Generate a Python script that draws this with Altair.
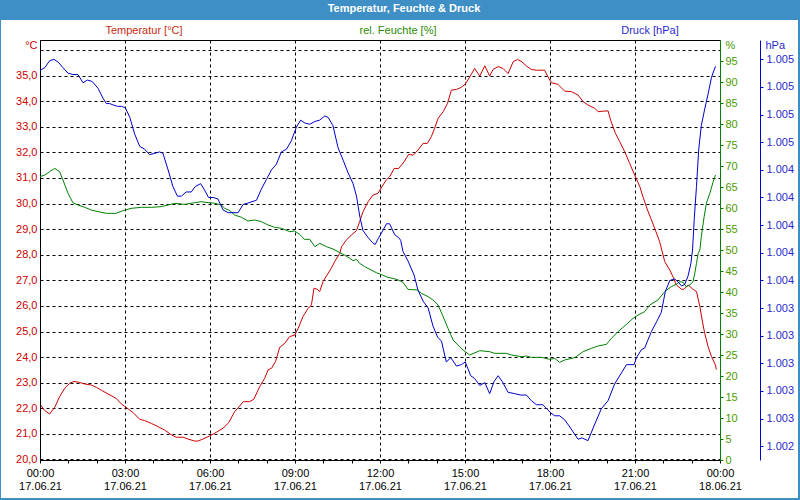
import altair as alt
import pandas as pd

# ---- data (hours since 17.06.21 00:00) ----
temp_h = [0.02, 0.17, 0.34, 0.52, 0.69, 0.87, 1.05, 1.20, 1.40, 1.58, 1.81, 1.99, 2.16, 2.40, 2.69, 2.87,
          3.01, 3.28, 3.52, 3.69, 3.93, 4.17, 4.40, 4.64, 4.81, 5.05, 5.22, 5.46, 5.58, 5.75, 5.99, 6.22,
          6.46, 6.66, 6.87, 7.05, 7.17, 7.40, 7.55, 7.75, 7.93, 8.05, 8.17, 8.31, 8.46, 8.64, 8.81, 8.99,
          9.11, 9.28, 9.46, 9.58, 9.67, 9.79, 9.87, 9.99, 10.11, 10.28, 10.40, 10.58, 10.64, 10.81, 10.99,
          11.17, 11.28, 11.40, 11.58, 11.75, 11.93, 12.07, 12.22, 12.34, 12.50, 12.66, 12.85, 13.01, 13.17,
          13.34, 13.52, 13.67, 13.81, 13.93, 14.05, 14.23, 14.38, 14.52, 14.70, 14.87, 15.01, 15.17, 15.34,
          15.52, 15.70, 15.87, 15.99, 16.17, 16.34, 16.52, 16.70, 16.85, 17.01, 17.17, 17.34, 17.52, 17.81,
          17.93, 18.05, 18.28, 18.52, 18.76, 18.99, 19.17, 19.34, 19.58, 19.70, 19.87, 20.05, 20.14, 20.31,
          20.46, 20.64, 20.81, 20.99, 21.17, 21.28, 21.44, 21.58, 21.72, 21.87, 22.05, 22.23, 22.34, 22.46,
          22.64, 22.73, 22.87, 23.05, 23.17, 23.29, 23.37, 23.46, 23.58, 23.70, 23.84, 23.87]
temp_v = [22.13, 21.91, 21.78, 22.04, 22.45, 22.78, 22.98, 23.05, 23.01, 22.95, 22.91, 22.82, 22.71, 22.56, 22.39, 22.17,
          22.06, 21.84, 21.57, 21.52, 21.41, 21.28, 21.15, 20.96, 20.87, 20.87, 20.80, 20.72, 20.72, 20.80, 20.92, 21.06,
          21.22, 21.44, 21.87, 22.09, 22.26, 22.26, 22.36, 22.84, 23.17, 23.50, 23.56, 23.82, 24.38, 24.54, 24.80, 24.86,
          25.12, 25.58, 25.90, 26.04, 26.69, 26.65, 26.56, 26.95, 27.17, 27.47, 27.73, 28.05, 28.31, 28.57, 28.77,
          28.94, 29.29, 29.68, 30.07, 30.33, 30.40, 30.66, 30.92, 31.05, 31.37, 31.37, 31.63, 31.92, 31.89,
          32.09, 32.35, 32.35, 32.61, 32.94, 33.33, 33.59, 33.91, 34.43, 34.46, 34.54, 34.67, 34.95, 35.28,
          34.98, 35.38, 34.98, 35.24, 35.35, 35.28, 35.08, 35.54, 35.63, 35.54, 35.37, 35.24, 35.21, 35.21,
          34.95, 34.72, 34.66, 34.39, 34.37, 34.24, 33.98, 33.85, 33.72, 33.59, 33.61, 33.62, 33.26, 32.74,
          32.42, 32.02, 31.57, 31.11, 30.66, 30.27, 29.75, 29.36, 28.96, 28.51, 27.73, 27.40, 27.14, 26.82,
          26.65, 26.65, 26.82, 26.65, 26.56, 25.97, 25.45, 24.93, 24.41, 24.02, 23.69, 23.52]

hum_h = [0.00, 0.17, 0.34, 0.52, 0.69, 0.81, 0.99, 1.16, 1.34, 1.58, 1.81, 2.05, 2.34, 2.69, 2.93, 3.22,
         3.58, 3.93, 4.28, 4.52, 4.75, 5.11, 5.46, 5.69, 5.93, 6.17, 6.40, 6.52, 6.70, 6.87, 7.11, 7.34,
         7.58, 7.81, 8.05, 8.28, 8.52, 8.81, 8.99, 9.16, 9.34, 9.52, 9.70, 9.87, 10.11, 10.34, 10.58,
         10.75, 10.93, 11.05, 11.17, 11.28, 11.46, 11.69, 11.87, 12.08, 12.28, 12.46, 12.64, 12.81, 12.99,
         13.32, 13.46, 13.70, 13.87, 14.05, 14.23, 14.40, 14.58, 14.75, 14.93, 15.17, 15.52, 15.87, 16.05,
         16.46, 16.64, 16.99, 17.17, 17.34, 17.70, 17.99, 18.17, 18.34, 18.52, 18.87, 19.17, 19.46, 19.70,
         19.99, 20.17, 20.40, 20.70, 20.93, 21.11, 21.34, 21.52, 21.81, 22.05, 22.28, 22.46, 22.58, 22.70,
         22.81, 22.93, 23.05, 23.11, 23.17, 23.23, 23.29, 23.34, 23.44, 23.52, 23.64, 23.76, 23.84]
hum_v = [67.46, 67.86, 68.65, 69.44, 68.65, 66.67, 63.49, 61.27, 60.71, 60.16, 59.52, 59.13, 58.73, 58.73, 59.37, 59.92,
         60.16, 60.16, 60.32, 60.71, 61.11, 60.87, 61.27, 61.51, 61.27, 61.11, 60.71, 59.92, 59.37, 58.33, 57.78, 56.90,
         57.14, 56.75, 55.95, 55.40, 55.16, 54.37, 54.52, 53.73, 52.54, 52.54, 50.79, 51.59, 50.79, 50.24, 49.37,
         48.81, 48.02, 47.46, 47.78, 46.83, 46.03, 45.24, 44.60, 44.05, 43.49, 43.25, 42.86, 42.30, 40.63,
         40.48, 39.68, 38.89, 38.10, 36.90, 34.13, 31.35, 28.57, 27.38, 26.19, 25.00, 26.03, 25.79, 25.40,
         25.40, 25.00, 24.60, 24.76, 24.44, 24.44, 23.97, 24.21, 23.25, 23.81, 24.37, 25.79, 26.59, 27.14,
         27.54, 28.97, 30.56, 32.30, 33.73, 34.52, 35.32, 36.90, 38.10, 40.08, 41.27, 41.83, 42.46, 42.30,
         41.27, 41.67, 42.46, 44.44, 46.83, 49.21, 50.00, 53.17, 57.94, 61.11, 63.49, 66.27, 67.86]

pres_h = [0.00, 0.17, 0.34, 0.49, 0.64, 0.81, 0.99, 1.16, 1.34, 1.52, 1.67, 1.84, 2.05, 2.22, 2.34, 2.46,
          2.58, 2.73, 2.87, 3.01, 3.17, 3.34, 3.52, 3.69, 3.87, 4.05, 4.22, 4.34, 4.52, 4.69, 4.85, 4.99,
          5.16, 5.34, 5.48, 5.67, 5.79, 5.95, 6.11, 6.28, 6.46, 6.64, 6.81, 6.99, 7.17, 7.34, 7.64, 7.81,
          7.99, 8.17, 8.34, 8.52, 8.70, 8.87, 9.05, 9.20, 9.34, 9.52, 9.70, 9.87, 10.05, 10.17, 10.34,
          10.52, 10.70, 10.87, 11.05, 11.17, 11.29, 11.40, 11.58, 11.75, 11.83, 11.93, 12.07, 12.23, 12.34,
          12.52, 12.66, 12.73, 12.81, 12.99, 13.20, 13.34, 13.52, 13.70, 13.87, 14.03, 14.17, 14.34, 14.50,
          14.70, 14.87, 15.01, 15.20, 15.34, 15.52, 15.70, 15.87, 16.03, 16.17, 16.31, 16.52, 16.76, 16.97,
          17.17, 17.34, 17.52, 17.75, 18.03, 18.17, 18.34, 18.52, 18.73, 18.99, 19.13, 19.34, 19.58, 19.81,
          20.05, 20.28, 20.52, 20.70, 20.97, 21.05, 21.23, 21.34, 21.58, 21.76, 21.93, 22.07, 22.23, 22.40,
          22.52, 22.64, 22.75, 22.87, 22.97, 23.03, 23.09, 23.17, 23.25, 23.34, 23.46, 23.58, 23.70, 23.84]
pres_v = [1005.12, 1005.14, 1005.19, 1005.20, 1005.18, 1005.14, 1005.10, 1005.09, 1005.09, 1005.03, 1005.05, 1005.04,
          1004.99, 1004.92, 1004.88, 1004.88, 1004.87, 1004.86, 1004.86, 1004.85, 1004.78, 1004.66, 1004.57, 1004.55,
          1004.51, 1004.52, 1004.53, 1004.52, 1004.40, 1004.28, 1004.21, 1004.21, 1004.24, 1004.24, 1004.28, 1004.30,
          1004.26, 1004.20, 1004.20, 1004.19, 1004.11, 1004.09, 1004.09, 1004.09, 1004.15, 1004.16, 1004.18, 1004.26,
          1004.33, 1004.40, 1004.44, 1004.53, 1004.55, 1004.61, 1004.71, 1004.76, 1004.74, 1004.73, 1004.75, 1004.76,
          1004.79, 1004.78, 1004.72, 1004.56, 1004.47, 1004.38, 1004.30, 1004.21, 1004.06, 1003.96, 1003.91, 1003.87,
          1003.86, 1003.90, 1003.95, 1004.01, 1004.01, 1003.93, 1003.91, 1003.89, 1003.81, 1003.74, 1003.64, 1003.53,
          1003.45, 1003.40, 1003.27, 1003.19, 1003.16, 1003.01, 1003.04, 1002.98, 1002.99, 1003.01, 1002.91, 1002.89,
          1002.84, 1002.86, 1002.78, 1002.87, 1002.91, 1002.87, 1002.79, 1002.78, 1002.77, 1002.77, 1002.73, 1002.70,
          1002.70, 1002.64, 1002.62, 1002.62, 1002.59, 1002.53, 1002.45, 1002.46, 1002.44, 1002.56, 1002.67, 1002.73,
          1002.85, 1002.93, 1002.99, 1002.99, 1003.04, 1003.10, 1003.11, 1003.23, 1003.30, 1003.37, 1003.52, 1003.60,
          1003.61, 1003.59, 1003.56, 1003.57, 1003.63, 1003.72, 1003.82, 1004.04, 1004.28, 1004.55, 1004.72, 1004.84,
          1004.95, 1005.07, 1005.15]

temp_ticks = list(range(20, 37))
hum_ticks = list(range(0, 100, 5))
pres_ticks = [round(1002.4 + 0.2 * i, 1) for i in range(15)]
x_ticks = list(range(0, 25))

TITLE = "Temperatur, Feuchte & Druck"
series_labels = ["Temperatur [°C]", "rel. Feuchte [%]", "Druck [hPa]"]

RED = "#cc0000"
GREEN = "#008000"
BLUE = "#0000cc"
FRAME = "#3d8fc6"
FONT = "Liberation Sans Narrow, Liberation Sans, sans-serif"

df_t = pd.DataFrame({"h": temp_h, "v": temp_v})
df_f = pd.DataFrame({"h": hum_h, "v": hum_v})
df_p = pd.DataFrame({"h": pres_h, "v": pres_v})

x_enc = alt.X(
    "h:Q",
    scale=alt.Scale(domain=[0, 24], nice=False, zero=False),
    axis=alt.Axis(
        values=x_ticks,
        title=None,
        domain=False,
        ticks=True,
        tickSize=3,
        tickColor="black",
        labelPadding=4,
        labelLineHeight=13,
        labelBaseline="top",
        labelOverlap=False,
        labelFlush=False,
        labelColor="black",
        labelFontSize=11,
        labelExpr="datum.value % 3 == 0 ? [(datum.value % 24 < 10 ? '0' : '') + (datum.value % 24) + ':00', datum.value < 24 ? '17.06.21' : '18.06.21'] : ''",
        grid=True,
        gridColor="black",
        gridDash=[3, 3],
        gridOpacity={"condition": {"test": "datum.value % 3 == 0 && datum.value > 0 && datum.value < 24", "value": 1}, "value": 0},
    ),
)

temp_line = alt.Chart(df_t).mark_line(color=RED, strokeWidth=1).encode(
    x=x_enc,
    y=alt.Y(
        "v:Q",
        scale=alt.Scale(domain=[19.98, 36.39], nice=False, zero=False),
        axis=alt.Axis(
            orient="left",
            values=temp_ticks,
            title="°C",
            titleAngle=0,
            titleAlign="right",
            titleBaseline="middle",
            titleX=-3,
            titleY=5,
            titleColor=RED,
            titleFontSize=11,
            titleFontWeight="normal",
            domain=True,
            domainColor="black",
            ticks=False,
            labelPadding=3,
            labelColor=RED,
            labelFontSize=11,
            labelExpr="datum.value > 35.5 ? '' : replace(format(datum.value, '.1f'), '.', ',')",
            grid=True,
            gridColor="black",
            gridDash=[3, 3],
        ),
    ),
)

hum_line = alt.Chart(df_f).mark_line(color=GREEN, strokeWidth=1).encode(
    x=x_enc,
    y=alt.Y(
        "v:Q",
        scale=alt.Scale(domain=[0, 100], nice=False, zero=False),
        axis=alt.Axis(
            orient="right",
            values=hum_ticks,
            title="%",
            titleAngle=0,
            titleAlign="left",
            titleBaseline="middle",
            titleX=5,
            titleY=5,
            titleColor="#4a9a00",
            titleFontSize=11,
            titleFontWeight="normal",
            domainColor=GREEN,
            tickColor=GREEN,
            tickSize=3,
            labelPadding=2,
            labelColor="#4a9a00",
            labelFontSize=11,
            grid=False,
        ),
    ),
)

pres_line = alt.Chart(df_p).mark_line(color=BLUE, strokeWidth=1).encode(
    x=x_enc,
    y=alt.Y(
        "v:Q",
        scale=alt.Scale(domain=[1002.30, 1005.34], nice=False, zero=False),
        axis=alt.Axis(
            orient="right",
            offset=40,
            values=pres_ticks,
            title="hPa",
            titleAngle=0,
            titleAlign="left",
            titleBaseline="middle",
            titleX=5,
            titleY=5,
            titleColor="#2a2acc",
            titleFontSize=11,
            titleFontWeight="normal",
            domainColor=BLUE,
            tickColor=BLUE,
            tickSize=3,
            labelPadding=3,
            labelColor="#2a2acc",
            labelFontSize=11,
            labelExpr="replace(format(datum.value, ',.0f'), ',', '.')",
            grid=False,
        ),
    ),
)

one = pd.DataFrame({"k": [0]})

# frame & title bar decoration
bar = alt.Chart(one).mark_rect(color=FRAME).encode(
    x=alt.value(-40), x2=alt.value(760), y=alt.value(-40), y2=alt.value(-20)
)
left_edge = alt.Chart(one).mark_rect(color=FRAME).encode(
    x=alt.value(-40), x2=alt.value(-39), y=alt.value(-20), y2=alt.value(460)
)
right_edge = alt.Chart(one).mark_rect(color=FRAME).encode(
    x=alt.value(758), x2=alt.value(760), y=alt.value(-20), y2=alt.value(460)
)
bottom_edge = alt.Chart(one).mark_rect(color=FRAME).encode(
    x=alt.value(-40), x2=alt.value(760), y=alt.value(458), y2=alt.value(460)
)
title_txt = alt.Chart(one).mark_text(
    text=TITLE, color="white", fontWeight="bold", fontSize=11, font=FONT, align="center", baseline="middle"
).encode(x=alt.value(364), y=alt.value(-31))

lab_t = alt.Chart(one).mark_text(
    text=series_labels[0], color="#cc2a10", fontSize=11, font=FONT, align="center", baseline="middle"
).encode(x=alt.value(104), y=alt.value(-9))
lab_f = alt.Chart(one).mark_text(
    text=series_labels[1], color="#2a8a00", fontSize=11, font=FONT, align="center", baseline="middle"
).encode(x=alt.value(358), y=alt.value(-9))
lab_p = alt.Chart(one).mark_text(
    text=series_labels[2], color="#2a2acc", fontSize=11, font=FONT, align="center", baseline="middle"
).encode(x=alt.value(610), y=alt.value(-9))

chart = alt.layer(
    temp_line, hum_line, pres_line,
    bar, left_edge, right_edge, bottom_edge, title_txt, lab_t, lab_f, lab_p,
).resolve_scale(y="independent").properties(
    width=680,
    height=420,
    autosize=alt.AutoSizeParams(type="none"),
    padding={"left": 40, "top": 40, "right": 80, "bottom": 40},
    background="white",
).configure_view(
    stroke="black", strokeWidth=1
).configure_axis(
    labelFont=FONT, titleFont=FONT
)

chart.save("out.html", embed_options={"renderer": "svg", "actions": False})
